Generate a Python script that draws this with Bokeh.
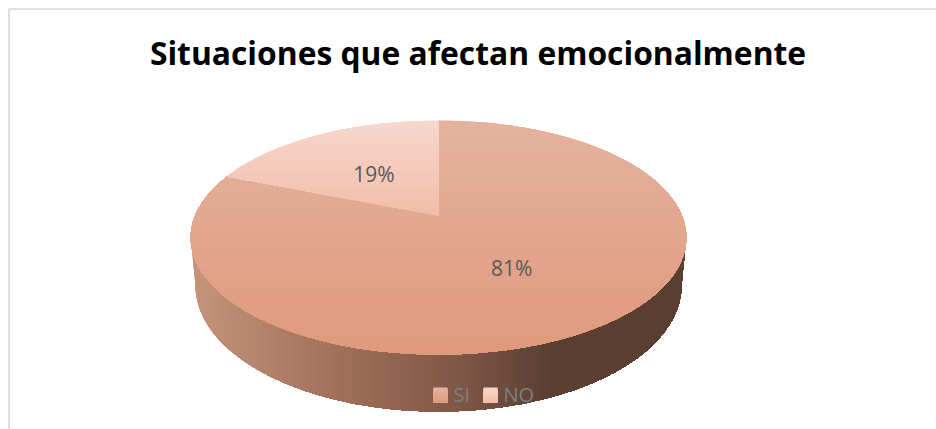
import math
from bokeh.core.properties import value
from bokeh.embed import file_html
from bokeh.models import Range1d
from bokeh.plotting import figure
from bokeh.resources import INLINE

# Survey result
title = "Situaciones que afectan emocionalmente"
categories = ["SI", "NO"]
percentages = [81, 19]

# Page-pixel layout of the tilted disc
W, H = 936, 429
CX, CY = 438.0, 215.0       # pie vertex on the top face
WX, WY = 243.4, 112.9       # projected radii
TILT = 0.188                # perspective strength
RIM_CY, RIM_A, RIM_B = 285.0, 243.0, 126.0  # lower rim of the disc


def project(frac, r=1.0):
    """Map a clockwise fraction of the circle (0 = top) onto the tilted face."""
    t = 2 * math.pi * frac
    c, u = r * math.sin(t), -r * math.cos(t)
    d = 1 - TILT * u
    return CX + WX * c / d, CY + WY * u / d


def clip(points, axis, limit):
    """Keep the part of a polygon whose coordinate is at or beyond the limit."""
    out = []
    for i, a in enumerate(points):
        b = points[(i + 1) % len(points)]
        ina, inb = a[axis] >= limit, b[axis] >= limit
        if ina:
            out.append(a)
        if ina != inb:
            s = (limit - a[axis]) / (b[axis] - a[axis])
            out.append((a[0] + s * (b[0] - a[0]), a[1] + s * (b[1] - a[1])))
    return out


def mix(stops, s):
    """Piecewise-linear colour ramp."""
    s = max(0.0, min(1.0, s))
    for (s0, c0), (s1, c1) in zip(stops, stops[1:]):
        if s <= s1:
            f = (s - s0) / (s1 - s0) if s1 > s0 else 0
            rgb = [round(x + f * (y - x)) for x, y in zip(c0, c1)]
            return "#%02x%02x%02x" % tuple(rgb)
    return "#%02x%02x%02x" % stops[-1][1]


def fill_bands(fig, points, axis, start, stop, step, stops):
    """Paint a polygon in overlapping bands so it shows a smooth gradient."""
    xs, ys, colors = [], [], []
    v = start
    while v < stop:
        part = clip(points, axis, v)
        if len(part) > 2:
            xs.append([p[0] for p in part])
            ys.append([p[1] for p in part])
            colors.append(mix(stops, (v - start) / (stop - start)))
        v += step
    fig.patches(xs, ys, fill_color=colors, line_color=None)


p = figure(width=W, height=H, output_backend="svg", toolbar_location=None,
           x_range=Range1d(0, W), y_range=Range1d(H, 0), min_border=0,
           background_fill_color="white", border_fill_color="white",
           outline_line_color=None)
p.axis.visible = False
p.grid.visible = False

# Chart frame: only the top and left edges show
p.line([8.5, 8.5, W], [H, 8.5, 8.5], line_color="#d9d9d9", line_width=1.6)

# Side wall of the disc, shaded from left to right
wall = []
steps = 180
for i in range(steps + 1):
    wall.append(project(0.72 - 0.44 * i / steps))
for i in range(steps + 1):
    a = math.pi * i / steps
    wall.append((CX + RIM_A * math.cos(a), RIM_CY + RIM_B * math.sin(a)))
fill_bands(p, wall, 0, 189, 687, 2, [
    (0.0, (0xc6, 0x94, 0x7d)),
    (0.30, (0xa0, 0x70, 0x5a)),
    (0.55, (0x7d, 0x56, 0x45)),
    (0.72, (0x5b, 0x3f, 0x33)),
    (1.0, (0x5a, 0x3e, 0x32)),
])

# Top face: slices start at twelve o'clock and run clockwise
face_ramps = {
    "SI": [(0.0, (0xe4, 0xb3, 0x9f)), (1.0, (0xdf, 0x99, 0x7c))],
    "NO": [(0.0, (0xf7, 0xd8, 0xcd)), (1.0, (0xf2, 0xbc, 0xa8))],
}
total = sum(percentages)
start = 0.0
for name, pct in zip(categories, percentages):
    span = pct / total
    n = max(8, int(span * 360))
    sector = [project(0, 0)] + [project(start + span * i / n) for i in range(n + 1)]
    y_top = min(q[1] for q in sector)
    y_bottom = max(q[1] for q in sector)
    fill_bands(p, sector, 1, y_top - 1, y_bottom + 1, 2, face_ramps[name])
    lx, ly = project(start + span / 2, 0.5)
    p.text([lx - 1], [ly + 1.5], text=[f"{pct}%"], text_color="#595959",
           text_font=value("Open Sans"), text_font_size="21px",
           text_align="center", text_baseline="middle")
    start += span

# Title
p.text([477.5], [52], text=[title], text_color="#000000",
       text_font=value("Open Sans"), text_font_style="bold",
       text_font_size="31.8px", text_align="center", text_baseline="middle")

# Legend over the wall
legend_x = [433, 483]
for x0, name in zip(legend_x, categories):
    ramp = face_ramps[name]
    square = [(x0, 387), (x0 + 14, 387), (x0 + 14, 402), (x0, 402)]
    fill_bands(p, square, 1, 387, 402, 1, ramp)
    p.text([x0 + 20], [393.5], text=[name], text_color="#7a8080",
           text_font=value("Open Sans"), text_font_size="20px",
           text_align="left", text_baseline="middle")

open("out.html", "w").write(file_html(p, INLINE))
